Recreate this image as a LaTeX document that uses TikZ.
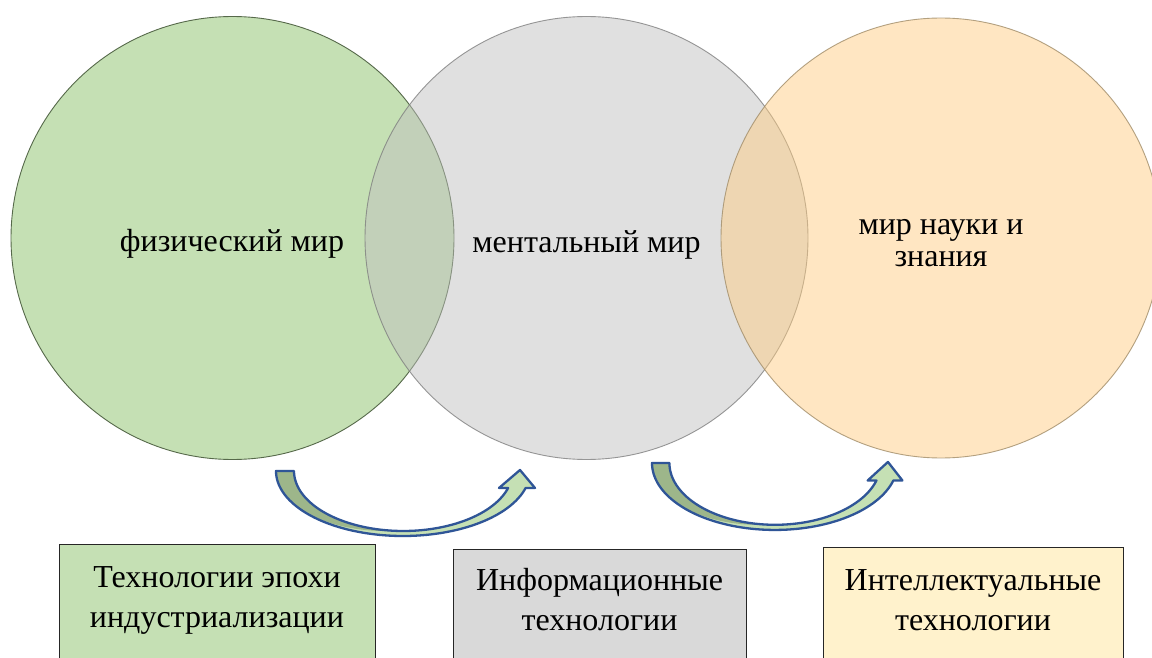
\documentclass[tikz,border=0pt]{standalone}
\usepackage{fontspec}
\setmainfont{Liberation Serif}
\definecolor{greenfill}{HTML}{C5E0B4}
\definecolor{greenline}{HTML}{56694A}
\definecolor{greyfill}{HTML}{BFBFBF}
\definecolor{greyline}{HTML}{7F7F7F}
\definecolor{orangefill}{HTML}{FFCC80}
\definecolor{orangeline}{HTML}{A08C68}
\definecolor{boxgrey}{HTML}{D9D9D9}
\definecolor{boxcream}{HTML}{FFF2CC}
\definecolor{arrowblue}{HTML}{2F5597}
\definecolor{arrowdark}{HTML}{9DB68A}
\newcommand\myArrowBody{(0,0) -- plot[domain=180:15.1,samples=70] ({127+127*cos(\x)},{65*sin(\x)}) -- (259,17) -- (244,-1) -- (223,17) -- (232.1,17) -- plot[domain=16.5:180,samples=70] ({127.3+109.3*cos(\x)},{60*sin(\x)}) -- cycle}
\newcommand\myArrowBack{(0,0) -- plot[domain=180:85.3,samples=50] ({109.3+109.3*cos(\x)},{60*sin(\x)}) -- plot[domain=94.7:180,samples=50] ({127.3+109.3*cos(\x)},{60*sin(\x)}) -- cycle}
\tikzset{
  world/.style={circle, inner sep=0pt, line width=0.9pt},
  worldtext/.style={font=\fontsize{32}{32.5}\selectfont, align=center, inner sep=0pt, text=black},
  techbox/.style={rectangle, anchor=north west, inner sep=0pt, draw=black!85, line width=1.2pt},
  techtext/.style={font=\fontsize{32}{40}\selectfont, align=center, inner sep=0pt, text=black},
  arrowline/.style={draw=arrowblue, line width=2.3pt, line join=round},
}
\begin{document}
\begin{tikzpicture}[x=1pt,y=-1pt]
\useasboundingbox (0,0) rectangle (1152,658);
\clip (0,0) rectangle (1152,658);
\fill[white] (0,0) rectangle (1152,658);
% circles
\node[world, minimum size=443pt, fill=greenfill, draw=greenline] (phys) at (232.5,238) {};
\node[world, minimum size=443pt, fill=greyfill, fill opacity=0.48, draw=greyline, draw opacity=0.8] (ment) at (586.5,238) {};
\node[world, minimum size=440pt, fill=orangefill, fill opacity=0.48, draw=orangeline, draw opacity=0.8] (sci) at (941,238) {};
\node[worldtext] (physT) at (232,244) {физический мир};
\node[worldtext] (mentT) at (586.5,245) {ментальный мир};
\node[worldtext] (sciT) at (941,243) {мир науки и\\знания};
% boxes
\node[techbox, fill=greenfill, minimum width=316pt, minimum height=160pt] (box1) at (59,544) {};
\node[techbox, fill=boxgrey, minimum width=293pt, minimum height=160pt] (box2) at (453,549) {};
\node[techbox, fill=boxcream, minimum width=300pt, minimum height=160pt] (box3) at (823,547) {};
\node[techtext] (box1T) at (217,600) {Технологии эпохи\\индустриализации};
\node[techtext] (box2T) at (599.5,600) {Информационные\\технологии};
\node[techtext] (box3T) at (973,600.5) {Интеллектуальные\\технологии};
% curved arrows
\begin{scope}[shift={(276,471)}]
  \coordinate (a1tail) at (9,0);
  \coordinate (a1tip) at (244,-1);
  \fill[greenfill] \myArrowBody;
  \fill[arrowdark] \myArrowBack;
  \path[arrowline] \myArrowBody;
\end{scope}
\begin{scope}[shift={(652,463)}, xscale=0.967, yscale=1.03]
  \coordinate (a2tail) at (9,0);
  \coordinate (a2tip) at (244,-1);
  \fill[greenfill] \myArrowBody;
  \fill[arrowdark] \myArrowBack;
  \path[arrowline] \myArrowBody;
\end{scope}
\end{tikzpicture}
\end{document}
